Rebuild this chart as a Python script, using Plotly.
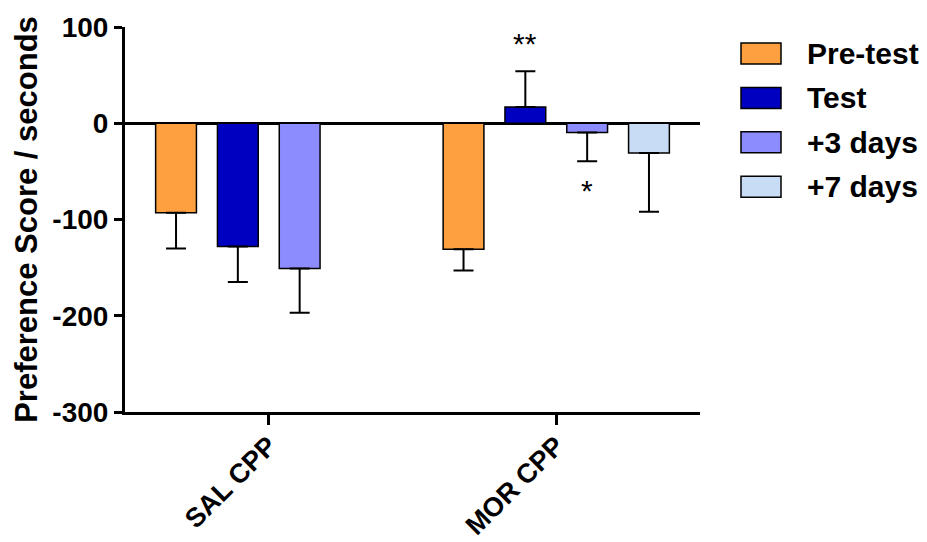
import plotly.graph_objects as go

# ---- data ----
categories = ["SAL CPP", "MOR CPP"]
series = ["Pre-test", "Test", "+3 days", "+7 days"]
pre_test = [-93, -131]
pre_test_err = [37, 22]
test = [-128, 17]
test_err = [37, 37]
plus3 = [-151, -9.5]
plus3_err = [46, 30]
plus7 = [None, -31]
plus7_err = [None, 61]
y_ticks = [-300, -200, -100, 0, 100]
y_tick_labels = ["-300", "-200", "-100", "0", "100"]

colors = ["#FFA040", "#0000C0", "#8C8CFF", "#C8DCF6"]
values = [pre_test, test, plus3, plus7]
errors = [pre_test_err, test_err, plus3_err, plus7_err]

FONT = "Liberation Sans, Arial, sans-serif"
OFF = 8  # default page body margin
W, H = 927 - OFF, 542 - OFF
# target screen-pixel plot box: x 125..700, y 27..412
ML, MT = 125 - OFF, 27 - OFF
MR, MB = W - (700 - OFF), H - (412 - OFF)
PW, PH = W - ML - MR, H - MT - MB
BARGAP, BARGROUPGAP = 0.14, 0.34

fig = go.Figure()
for name, vals, errs, col in zip(series, values, errors, colors):
    plus = [None if v is None else (e if v >= 0 else 0) for v, e in zip(vals, errs)]
    minus = [None if v is None else (0 if v >= 0 else e) for v, e in zip(vals, errs)]
    fig.add_trace(go.Bar(
        name=name, x=categories, y=vals,
        marker=dict(color=col, line=dict(color="black", width=1.5)),
        error_y=dict(type="data", symmetric=False, array=plus, arrayminus=minus,
                     color="black", thickness=2, width=10),
        showlegend=False,
    ))

# significance marks
group_w = 1 - BARGAP
slot = group_w / len(series)
def slot_x(cat_idx, ser_idx):
    return cat_idx - group_w / 2 + slot * (ser_idx + 0.5)

annos = []
annos.append(dict(x=slot_x(1, 1), y=test[1] + test_err[1], xref="x", yref="y",
                  text="**", showarrow=False, yanchor="middle", yshift=28,
                  font=dict(family=FONT, size=30, color="black")))
annos.append(dict(x=slot_x(1, 2), y=plus3[1] - plus3_err[1], xref="x", yref="y",
                  text="*", showarrow=False, yanchor="middle", yshift=-29,
                  font=dict(family=FONT, size=30, color="black")))

# custom legend (screen-pixel targets -> paper coords)
def px2x(px):
    return (px - OFF - ML) / PW
def py2y(py):
    return (H - MB - (py - OFF)) / PH

shapes = []
leg_top = 53.5
leg_step = 44.4
for i, (name, col) in enumerate(zip(series, colors)):
    cy = leg_top + i * leg_step
    shapes.append(dict(type="rect", xref="paper", yref="paper",
                       x0=px2x(741), x1=px2x(781), y0=py2y(cy + 10.5), y1=py2y(cy - 10.5),
                       fillcolor=col, line=dict(color="black", width=1.5)))
    annos.append(dict(x=px2x(805), y=py2y(cy), xref="paper", yref="paper",
                      text=name, showarrow=False, xanchor="left", yanchor="middle",
                      font=dict(family=FONT, size=30, color="black", weight="bold")))

fig.update_layout(
    width=W, height=H,
    margin=dict(l=ML, r=MR, t=MT, b=MB, autoexpand=False),
    paper_bgcolor="white", plot_bgcolor="white",
    barmode="group", bargap=BARGAP, bargroupgap=BARGROUPGAP,
    font=dict(family=FONT, color="black"),
    annotations=annos, shapes=shapes,
    showlegend=False,
)
fig.update_xaxes(
    type="category", range=[-0.5, 1.5], automargin=False,
    showline=True, linecolor="black", linewidth=3,
    ticks="outside", ticklen=10, tickwidth=3, tickcolor="black",
    tickangle=-45, showgrid=False, zeroline=False, ticklabelstandoff=-6,
    tickfont=dict(family=FONT, size=27, color="black", weight="bold"),
)
fig.update_yaxes(
    range=[-300, 100], tickvals=y_ticks, ticktext=y_tick_labels, automargin=False,
    showline=True, linecolor="black", linewidth=3,
    ticks="outside", ticklen=8, tickwidth=3, tickcolor="black",
    showgrid=False, zeroline=True, zerolinecolor="black", zerolinewidth=3,
    tickfont=dict(family=FONT, size=28, color="black", weight="bold"),
    title=dict(text="Preference Score / seconds", standoff=6,
               font=dict(family=FONT, size=31, color="black", weight="bold")),
)

fig.write_html("out.html")
